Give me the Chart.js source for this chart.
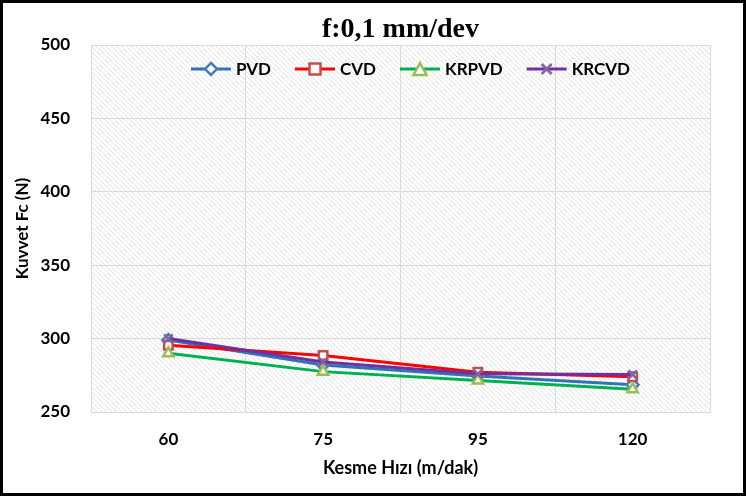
<!DOCTYPE html>
<html>
<head>
<meta charset="utf-8">
<script src="https://cdn.jsdelivr.net/npm/chart.js@4"></script>
<style>
  html, body { margin: 0; padding: 0; background: #fff; }
  #frame { width: 746px; height: 496px; box-sizing: border-box; border: 3px solid #000; background: #fff; }
  #frame canvas { display: block; }
</style>
</head>
<body>
<div id="frame"><canvas id="chart" width="740" height="490"></canvas></div>
<script>
// f:0,1 mm/dev — cutting force vs cutting speed, four tool coatings

const categories = ['60', '75', '95', '120'];
const pvd   = [299, 282, 274.5, 268.5];
const cvd   = [295.5, 288.5, 277, 274];
const krpvd = [290, 277.5, 271.5, 265.5];
const krcvd = [300, 284, 276, 275.5];

const yMin = 250, yMax = 500, yStep = 50;

const FONT = 'Lato, "Open Sans", sans-serif';

// ─── helpers ──────────────────────────────────────────────────────

function drawMarker(ctx, style, x, y, color) {
  ctx.save();
  ctx.fillStyle = '#fff';
  ctx.strokeStyle = color;
  ctx.lineWidth = 2.5;
  ctx.beginPath();
  if (style === 'rectRot') {
    ctx.moveTo(x, y - 6); ctx.lineTo(x + 6, y); ctx.lineTo(x, y + 6); ctx.lineTo(x - 6, y); ctx.closePath();
    ctx.fill(); ctx.stroke();
  } else if (style === 'rect') {
    ctx.rect(x - 5.5, y - 5.5, 11, 11); ctx.fill(); ctx.stroke();
  } else if (style === 'triangle') {
    ctx.moveTo(x, y - 6); ctx.lineTo(x + 6.5, y + 6); ctx.lineTo(x - 6.5, y + 6); ctx.closePath();
    ctx.fill(); ctx.stroke();
  } else {
    ctx.moveTo(x - 5, y - 5); ctx.lineTo(x + 5, y + 5); ctx.moveTo(x + 5, y - 5); ctx.lineTo(x - 5, y + 5);
    ctx.stroke();
  }
  ctx.restore();
}

// legend in the top of the plot area: line + marker + label
const topLegend = {
  id: 'topLegend',
  afterDraw(chart) {
    const { ctx, chartArea: a } = chart;
    const sets = chart.data.datasets;
    const lineW = 40, textGap = 5, itemGap = 24;
    ctx.save();
    ctx.font = 'bold 17px ' + FONT;
    ctx.textBaseline = 'middle';
    ctx.textAlign = 'left';
    const widths = sets.map((ds) => lineW + textGap + ctx.measureText(ds.label).width);
    const total = widths.reduce((s, w) => s + w, 0) + itemGap * (sets.length - 1);
    let x = (a.left + a.right) / 2 + 10 - total / 2;
    const y = a.top + 24;
    sets.forEach((ds, i) => {
      ctx.strokeStyle = ds.borderColor;
      ctx.lineWidth = 3;
      ctx.beginPath(); ctx.moveTo(x, y); ctx.lineTo(x + lineW, y); ctx.stroke();
      drawMarker(ctx, ds.pointStyle, x + lineW / 2, y, ds.pointBorderColor);
      ctx.fillStyle = '#000';
      ctx.fillText(ds.label, x + lineW + textGap, y + 1);
      x += widths[i] + itemGap;
    });
    ctx.restore();
  }
};

function hatch() {
  const p = document.createElement('canvas');
  p.width = 5; p.height = 5;
  const ctx = p.getContext('2d');
  ctx.fillStyle = '#fff';
  ctx.fillRect(0, 0, 5, 5);
  ctx.strokeStyle = '#dedede';
  ctx.lineWidth = 0.9;
  ctx.beginPath();
  ctx.moveTo(-1, -1); ctx.lineTo(6, 6);
  ctx.stroke();
  return p;
}

const plotBackground = {
  id: 'plotBackground',
  beforeDraw(chart) {
    const { ctx, chartArea: a } = chart;
    ctx.save();
    ctx.fillStyle = ctx.createPattern(hatch(), 'repeat');
    ctx.fillRect(a.left, a.top, a.right - a.left, a.bottom - a.top);
    ctx.restore();
  }
};

function series(label, data, line, mark, style, order) {
  return {
    label, data, order,
    borderColor: line,
    borderWidth: 3,
    pointStyle: style,
    pointRadius: 6,
    pointBorderColor: mark,
    pointBackgroundColor: '#fff',
    pointBorderWidth: 2.5,
    tension: 0,
  };
}

// ─── chart ────────────────────────────────────────────────────────

new Chart(document.getElementById('chart'), {
  type: 'line',
  data: {
    labels: categories,
    datasets: [
      series('PVD',   pvd,   '#2E75B6', '#4A7EBB', 'rectRot', 4),
      series('CVD',   cvd,   '#FF0000', '#C0504D', 'rect', 3),
      series('KRPVD', krpvd, '#00B050', '#9BBB59', 'triangle', 2),
      series('KRCVD', krcvd, '#7030A0', '#8064A2', 'crossRot', 1),
    ],
  },
  plugins: [plotBackground, topLegend],
  options: {
    responsive: false,
    animation: false,
    layout: { padding: { left: 0, right: 33, top: 0, bottom: 0 } },
    plugins: {
      title: {
        display: true,
        text: 'f:0,1 mm/dev',
        fullSize: false,
        color: '#000',
        font: { family: '"Liberation Serif", "DejaVu Serif", serif', size: 28, weight: 'bold', lineHeight: 1.0 },
        padding: { top: 13, bottom: 1 },
      },
      legend: { display: false },
      tooltip: { enabled: false },
    },
    scales: {
      x: {
        offset: true,
        grid: { offset: true, color: '#d9d9d9', drawTicks: false },
        border: { color: '#d9d9d9' },
        ticks: { color: '#000', padding: 17, font: { family: FONT, size: 17, weight: 'bold' } },
        title: {
          display: true,
          text: 'Kesme Hızı (m/dak)',
          color: '#000',
          font: { family: FONT, size: 18, weight: 'bold', lineHeight: 1.2 },
          padding: { top: 0, bottom: 14 },
        },
        afterFit(scale) { scale.height = 81; },
      },
      y: {
        min: yMin,
        max: yMax,
        ticks: { stepSize: yStep, color: '#000', padding: 21, font: { family: FONT, size: 17, weight: 'bold' } },
        grid: { color: '#d9d9d9', drawTicks: false },
        border: { color: '#d9d9d9' },
        title: {
          display: true,
          text: 'Kuvvet Fc (N)',
          color: '#000',
          font: { family: FONT, size: 17, weight: 'bold', lineHeight: 1.2 },
          padding: { top: 9, bottom: 0 },
        },
        afterFit(scale) { scale.width = 88; },
      },
    },
  },
});
</script>
</body>
</html>
